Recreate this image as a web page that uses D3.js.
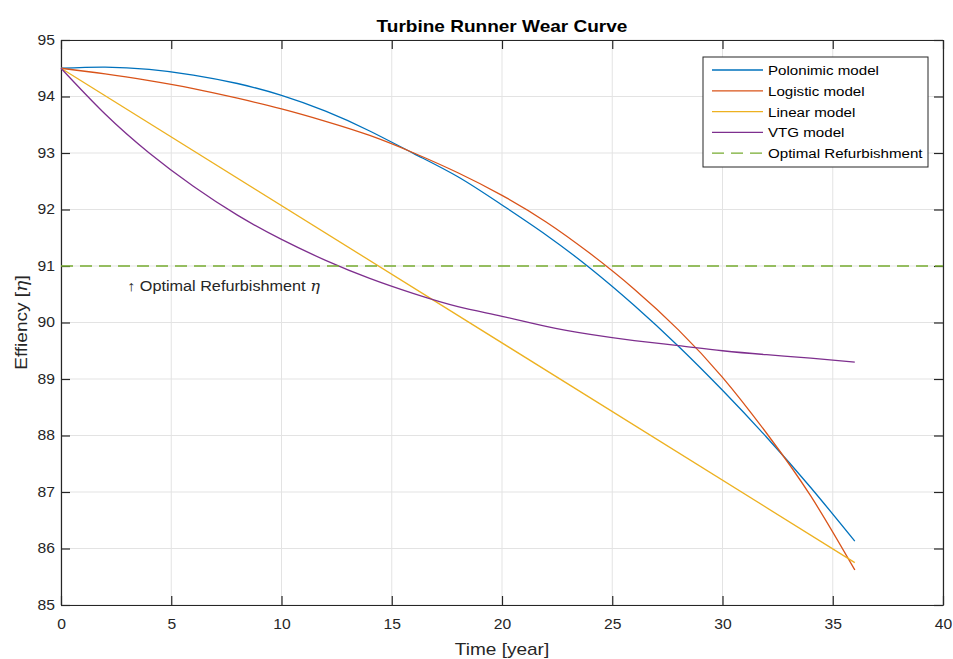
<!DOCTYPE html>
<html>
<head>
<meta charset="utf-8">
<script src="https://cdn.jsdelivr.net/npm/d3@7"></script>
<style>
  html, body { margin: 0; padding: 0; background: #fff; }
  svg { display: block; font-family: "Liberation Sans", Arial, Helvetica, sans-serif; }
</style>
</head>
<body>
<svg id="chart" width="953" height="659"></svg>
<script>
// Efficiency over time for each wear model (years, efficiency)
const years = [0, 2, 4, 6, 8, 10, 12, 14, 16, 18, 20, 22, 24, 26, 28, 30, 32, 34, 36];
const polynomial = [94.50, 94.52, 94.48, 94.38, 94.23, 94.02, 93.74, 93.39, 92.99, 92.58, 92.08, 91.55, 90.96, 90.30, 89.58, 88.80, 87.97, 87.08, 86.13];
const logistic   = [94.50, 94.40, 94.28, 94.14, 93.97, 93.78, 93.56, 93.31, 93.00, 92.65, 92.25, 91.78, 91.22, 90.59, 89.87, 89.03, 88.04, 86.93, 85.62];
const vtg        = [94.50, 93.69, 93.00, 92.41, 91.90, 91.47, 91.10, 90.78, 90.51, 90.28, 90.11, 89.93, 89.79, 89.68, 89.59, 89.50, 89.43, 89.37, 89.30];
const linearYears = [0, 36];
const linear      = [94.50, 85.75];
const optimalEta  = 91;

const xTicks = [0, 5, 10, 15, 20, 25, 30, 35, 40];
const yTicks = [85, 86, 87, 88, 89, 90, 91, 92, 93, 94, 95];

const seriesNames = ["Polonimic model", "Logistic model", "Linear model", "VTG model", "Optimal Refurbishment"];
const colors = ["#0072BD", "#D95319", "#EDB120", "#7E2F8E", "#77AC30"];

const svg = d3.select("#chart");
const margin = { left: 61, right: 10, top: 40, bottom: 54 };
const W = 953, H = 659;
const x = d3.scaleLinear().domain([0, 40]).range([margin.left, W - margin.right]);
const y = d3.scaleLinear().domain([85, 95]).range([H - margin.bottom, margin.top]);
const axisColor = "#262626";
const SX = 1.12; // horizontal text stretch

// text placed at (px,py) with a slightly widened typeface
function wideText(parent, px, py, rotate) {
  const g = parent.append("g")
    .attr("transform", `translate(${px},${py})${rotate ? ` rotate(${rotate})` : ""} scale(${SX},1)`);
  return g.append("text");
}

// grid
const grid = svg.append("g");
grid.selectAll("line.vx").data(xTicks).join("line")
  .attr("x1", d => x(d)).attr("x2", d => x(d))
  .attr("y1", y(85)).attr("y2", y(95))
  .attr("stroke", "#e3e3e3").attr("stroke-width", 1);
grid.selectAll("line.hy").data(yTicks).join("line")
  .attr("x1", x(0)).attr("x2", x(40))
  .attr("y1", d => y(d)).attr("y2", d => y(d))
  .attr("stroke", "#e3e3e3").attr("stroke-width", 1);

// axes with inward ticks on all four sides
const tickLen = 9;
const axB = svg.append("g").attr("transform", `translate(0,${y(85)})`)
  .call(d3.axisBottom(x).tickValues(xTicks).tickSize(-tickLen).tickPadding(14).tickSizeOuter(0));
const axT = svg.append("g").attr("transform", `translate(0,${y(95)})`)
  .call(d3.axisTop(x).tickValues(xTicks).tickSize(-tickLen).tickFormat("").tickSizeOuter(0));
const axL = svg.append("g").attr("transform", `translate(${x(0)},0)`)
  .call(d3.axisLeft(y).tickValues(yTicks).tickSize(-tickLen).tickPadding(5.5).tickSizeOuter(0));
const axR = svg.append("g").attr("transform", `translate(${x(40)},0)`)
  .call(d3.axisRight(y).tickValues(yTicks).tickSize(-tickLen).tickFormat("").tickSizeOuter(0));
[axB, axT, axL, axR].forEach(a => {
  a.select(".domain").attr("stroke", axisColor).attr("stroke-width", 1.2);
  a.selectAll(".tick line").attr("stroke", axisColor).attr("stroke-width", 1.2);
  a.selectAll(".tick text").attr("fill", axisColor).attr("font-size", 14)
    .attr("font-family", "'Liberation Sans', Arial, sans-serif")
    .attr("transform", `scale(${SX},1)`);
});

// series lines
const line = d3.line().x(d => x(d[0])).y(d => y(d[1])).curve(d3.curveNatural);
const zip = (xs, ys) => xs.map((v, i) => [v, ys[i]]);
const plotSeries = [
  zip(years, polynomial),
  zip(years, logistic),
  zip(linearYears, linear),
  zip(years, vtg)
];
const plotG = svg.append("g");
plotSeries.forEach((pts, i) => {
  plotG.append("path").datum(pts).attr("d", line)
    .attr("fill", "none").attr("stroke", colors[i]).attr("stroke-width", 1.3);
});

// optimal refurbishment threshold
plotG.append("line")
  .attr("x1", x(0)).attr("x2", x(40))
  .attr("y1", y(optimalEta)).attr("y2", y(optimalEta))
  .attr("stroke", colors[4]).attr("stroke-width", 1.3).attr("stroke-dasharray", "12,7");

// annotation
const ann = wideText(svg, x(3), y(optimalEta) + 25)
  .attr("font-size", 14.5).attr("fill", axisColor);
ann.append("tspan").text("↑ Optimal Refurbishment ");
ann.append("tspan").attr("font-family", "'DejaVu Serif', 'Liberation Serif', serif")
  .attr("font-style", "italic").text("η");

// title
wideText(svg, (x(0) + x(40)) / 2, 31.5)
  .attr("text-anchor", "middle").attr("font-size", 17).attr("font-weight", "bold")
  .attr("fill", "#000").text("Turbine Runner Wear Curve");

// axis labels
wideText(svg, (x(0) + x(40)) / 2, 655)
  .attr("text-anchor", "middle").attr("font-size", 17).attr("fill", axisColor)
  .text("Time [year]");
const yl = wideText(svg, 27, (y(85) + y(95)) / 2, -90)
  .attr("text-anchor", "middle").attr("font-size", 17).attr("fill", axisColor);
yl.append("tspan").text("Effiency [");
yl.append("tspan").attr("font-family", "'DejaVu Serif', 'Liberation Serif', serif")
  .attr("font-style", "italic").text("η");
yl.append("tspan").text("]");

// legend
const lg = svg.append("g").attr("transform", "translate(703,57)");
lg.append("rect").attr("width", 225).attr("height", 110)
  .attr("fill", "#fff").attr("stroke", axisColor).attr("stroke-width", 1);
seriesNames.forEach((name, i) => {
  const yy = 13 + i * 20.8;
  lg.append("line").attr("x1", 9).attr("x2", 60).attr("y1", yy).attr("y2", yy)
    .attr("stroke", colors[i]).attr("stroke-width", 1.3)
    .attr("stroke-dasharray", i === 4 ? "12,7" : null);
  wideText(lg, 65, yy + 5)
    .attr("font-size", 13.5).attr("fill", "#000").text(name);
});
</script>
</body>
</html>
